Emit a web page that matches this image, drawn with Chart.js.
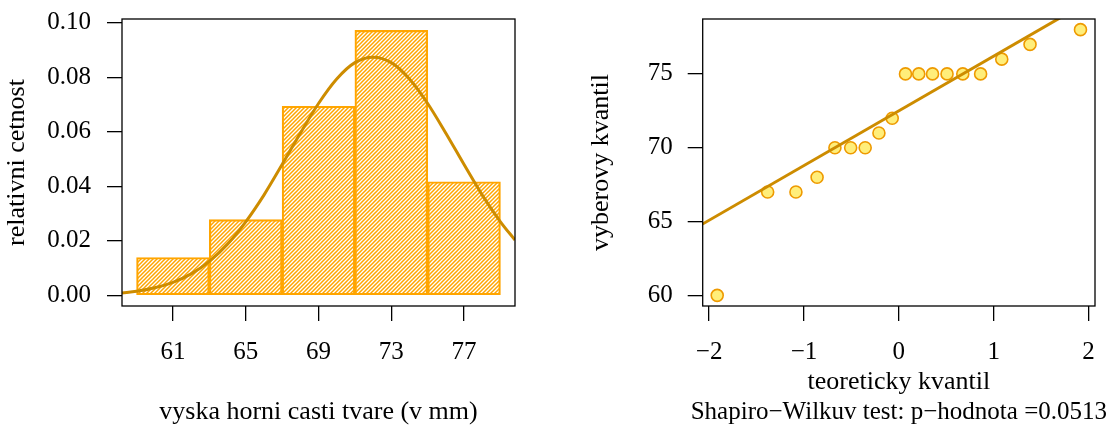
<!DOCTYPE html>
<html>
<head>
<meta charset="utf-8">
<script src="https://cdn.jsdelivr.net/npm/chart.js@4/dist/chart.umd.min.js"></script>
<style>
    body { margin: 0; background: #fff; }
    #wrap { position: relative; width: 1110px; height: 426px; }
    canvas { position: absolute; top: 0; }
    #histChart { left: 0; }
    #qqChart { left: 555px; }
</style>
</head>
<body>
<div id="wrap">
    <canvas id="histChart" width="555" height="426"></canvas>
    <canvas id="qqChart" width="555" height="426"></canvas>
</div>
<script>
// histogram, bins 59-63, 63-67, ... (mid points), relative frequency density
const binMids = [61, 65, 69, 73, 77];
const binDensity = [0.0139, 0.0278, 0.0694, 0.0972, 0.0417];
const histXTicks = [61, 65, 69, 73, 77];
const histYTicks = [0, 0.02, 0.04, 0.06, 0.08, 0.10];

// normal density curve drawn over the histogram
const curveX = [58.2, 59, 60, 61, 62, 63, 64, 65, 66, 67, 68, 69, 70, 71, 72, 73, 74, 75, 76, 77, 78, 79, 79.8];
const curveY = [0.0009, 0.0015, 0.0028, 0.0048, 0.0079, 0.0125, 0.0188, 0.0270, 0.0368, 0.0480, 0.0595, 0.0704,
                0.0794, 0.0854, 0.0874, 0.0854, 0.0794, 0.0704, 0.0595, 0.0480, 0.0368, 0.0270, 0.0203];

// Q-Q plot
const theorQ = [-1.915, -1.383, -1.085, -0.862, -0.674, -0.508, -0.355, -0.210, -0.070,
                0.070, 0.210, 0.355, 0.508, 0.674, 0.862, 1.085, 1.383, 1.915];
const sampleQ = [60, 67, 67, 68, 70, 70, 70, 71, 72, 75, 75, 75, 75, 75, 75, 76, 77, 78];
const qqLineX = [-2.07, 2.07];
const qqLineY = [64.83, 80.17];
const qqXTicks = [-2, -1, 0, 1, 2];
const qqYTicks = [60, 65, 70, 75];
const qqSubtitle = 'Shapiro\u2212Wilkuv test: p\u2212hodnota =0.0513';

const LINE_COL = '#CD8C00';
const BAR_COL = '#FFA500';
const FONT = "'Liberation Serif', 'Times New Roman', serif";

Chart.defaults.font.family = FONT;
Chart.defaults.font.size = 25;
Chart.defaults.font.lineHeight = 1.15;
Chart.defaults.color = '#000';
Chart.defaults.animation = false;

const titleFont = { size: 26, lineHeight: 1.15 };

// hatch fill like R's density= shading
function hatch(color) {
    const s = 4;
    const c = document.createElement('canvas');
    c.width = s; c.height = s;
    const g = c.getContext('2d');
    g.strokeStyle = color;
    g.lineWidth = 1.5;
    g.beginPath();
    g.moveTo(0, s); g.lineTo(s, 0);
    g.moveTo(-1, 1); g.lineTo(1, -1);
    g.moveTo(s - 1, s + 1); g.lineTo(s + 1, s - 1);
    g.stroke();
    return g.createPattern(c, 'repeat');
}

const boxPlugin = {
    id: 'box',
    afterDatasetsDraw(chart) {
        const { ctx, chartArea: a } = chart;
        ctx.save();
        ctx.strokeStyle = '#000';
        ctx.lineWidth = 1.3;
        ctx.strokeRect(a.left, a.top, a.right - a.left, a.bottom - a.top);
        ctx.restore();
    }
};

// sub line under the x title (chart.js would squeeze it to the axis width)
const subPlugin = {
    id: 'sub',
    afterDraw(chart) {
        const { ctx, chartArea: a } = chart;
        ctx.save();
        ctx.font = '25px ' + FONT;
        ctx.fillStyle = '#000';
        ctx.textAlign = 'center';
        ctx.textBaseline = 'middle';
        ctx.fillText(qqSubtitle, (a.left + a.right) / 2, 412);
        ctx.restore();
    }
};

const tickGrid = { drawOnChartArea: false, drawTicks: true, tickLength: 15, color: '#000', lineWidth: 1.3, offset: false };
const fixTicks = (vals) => (s) => { s.ticks = vals.map(v => ({ value: v })); };
const minus = (v) => String(v).replace('-', '\u2212');
const fitY = (w) => (s) => { s.width = w; s.paddingTop = 0; s.paddingBottom = 0; };
const fitX = (s) => { s.height = 120; s.paddingLeft = 0; s.paddingRight = 0; };

const hctx = document.getElementById('histChart').getContext('2d');
new Chart(hctx, {
    type: 'bar',
    data: {
        datasets: [{
            type: 'bar',
            order: 2,
            data: binMids.map((x, i) => ({ x: x, y: binDensity[i] })),
            backgroundColor: hatch(BAR_COL),
            borderColor: BAR_COL,
            borderWidth: 1.5,
            borderSkipped: false,
            barPercentage: 1,
            categoryPercentage: 1
        }, {
            type: 'line',
            order: 1,
            data: curveX.map((x, i) => ({ x: x, y: curveY[i] })),
            borderColor: LINE_COL,
            borderWidth: 3,
            cubicInterpolationMode: 'monotone',
            pointRadius: 0,
            fill: false
        }]
    },
    options: {
        responsive: false,
        layout: { padding: { top: 19, right: 40, left: 0, bottom: 0 } },
        plugins: { legend: { display: false }, tooltip: { enabled: false } },
        scales: {
            x: {
                type: 'linear', min: 58.2, max: 79.8, offset: false,
                afterBuildTicks: fixTicks(histXTicks),
                afterFit: fitX,
                grid: tickGrid, border: { display: false },
                ticks: { padding: 17, maxRotation: 0 },
                title: { display: true, text: 'vyska horni casti tvare (v mm)', font: titleFont, padding: { bottom: -1 } }
            },
            y: {
                min: -0.0039, max: 0.1014,
                afterBuildTicks: fixTicks(histYTicks),
                afterFit: fitY(122),
                grid: tickGrid, border: { display: false },
                ticks: { padding: 16, callback: (v) => v.toFixed(2) },
                title: { display: true, text: 'relativni cetnost', font: titleFont, padding: { top: 2.5 } }
            }
        }
    },
    plugins: [boxPlugin]
});

const qctx = document.getElementById('qqChart').getContext('2d');
new Chart(qctx, {
    type: 'scatter',
    data: {
        datasets: [{
            order: 1,
            type: 'line',
            data: qqLineX.map((x, i) => ({ x: x, y: qqLineY[i] })),
            borderColor: LINE_COL,
            borderWidth: 3,
            pointRadius: 0,
            fill: false
        }, {
            order: 2,
            data: theorQ.map((x, i) => ({ x: x, y: sampleQ[i] })),
            backgroundColor: '#FFEE7A',
            borderColor: '#EE9A00',
            borderWidth: 1.6,
            pointRadius: 6
        }]
    },
    options: {
        responsive: false,
        layout: { padding: { top: 19, right: 15, left: 0, bottom: 0 } },
        plugins: { legend: { display: false }, tooltip: { enabled: false } },
        scales: {
            x: {
                type: 'linear', min: -2.068, max: 2.068,
                afterBuildTicks: fixTicks(qqXTicks),
                afterFit: fitX,
                grid: tickGrid, border: { display: false },
                ticks: { padding: 17, maxRotation: 0, callback: minus },
                title: { display: true, text: 'teoreticky kvantil', font: titleFont, padding: { bottom: 29 } }
            },
            y: {
                min: 59.28, max: 78.72,
                afterBuildTicks: fixTicks(qqYTicks),
                afterFit: fitY(147.7),
                grid: tickGrid, border: { display: false },
                ticks: { padding: 15 },
                title: { display: true, text: 'vyberovy kvantil', font: titleFont, padding: { top: 31.7 } }
            }
        }
    },
    plugins: [boxPlugin, subPlugin]
});
</script>
</body>
</html>
